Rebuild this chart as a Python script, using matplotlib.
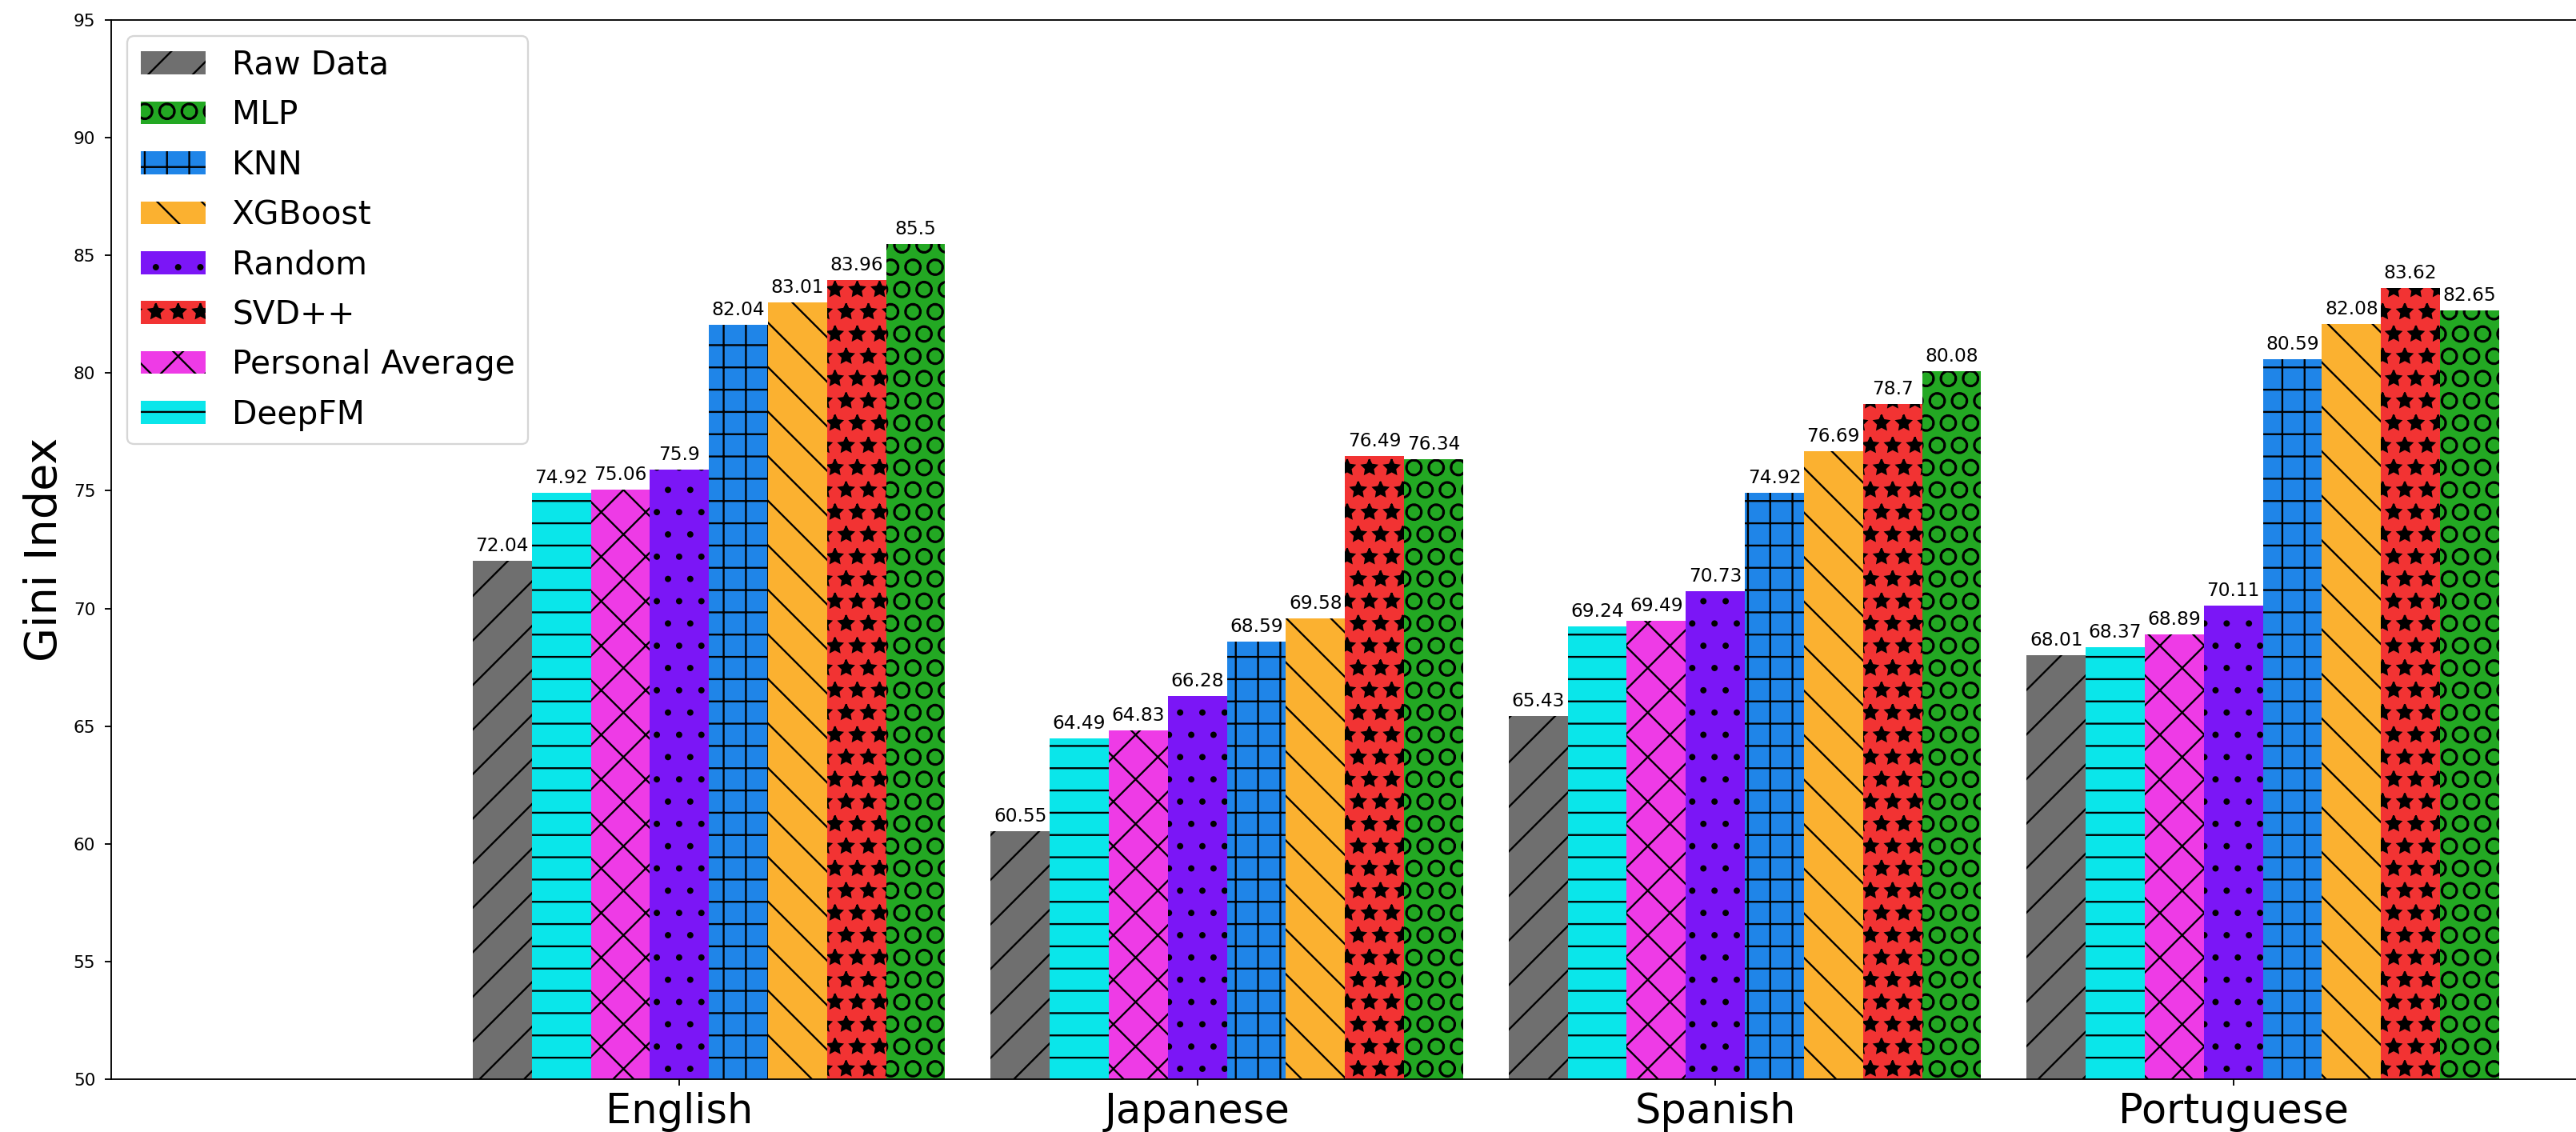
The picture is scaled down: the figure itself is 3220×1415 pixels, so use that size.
import numpy as np
import matplotlib
matplotlib.use("Agg")
import matplotlib.pyplot as plt

languages = ["English", "Japanese", "Spanish", "Portuguese"]

# legend order (the bars themselves sit in a different order inside a group)
methods = ["Raw Data", "MLP", "KNN", "XGBoost", "Random", "SVD++", "Personal Average", "DeepFM"]

raw_data = [72.04, 60.55, 65.43, 68.01]
mlp = [85.5, 76.34, 80.08, 82.65]
knn = [82.04, 68.59, 74.92, 80.59]
xgboost = [83.01, 69.58, 76.69, 82.08]
random_ = [75.9, 66.28, 70.73, 70.11]
svdpp = [83.96, 76.49, 78.7, 83.62]
personal_avg = [75.06, 64.83, 69.49, 68.89]
deepfm = [74.92, 64.49, 69.24, 68.37]

values = [raw_data, mlp, knn, xgboost, random_, svdpp, personal_avg, deepfm]
# slot of each method inside the group, Random sits on the tick
slots = [-3, 4, 1, 2, 0, 3, -1, -2]
colors = ["#6f6f6f", "#23a823", "#1f85e8", "#fbb130", "#7b16f6", "#f23333", "#ee3be6", "#0ae6ea"]
hatches = ["/", "O", "+", "\\", ".", "*", "x", "-"]

dpi = 167
fig = plt.figure(figsize=(3220 / dpi, 1415 / dpi), dpi=dpi)
ax = fig.add_axes([139 / 3220, 66 / 1415, 3091 / 3220, 1324 / 1415])

x = np.arange(len(languages))
width = 0.114

for name, vals, slot, c, h in zip(methods, values, slots, colors, hatches):
    bars = ax.bar(x + slot * width, vals, width, color=c, hatch=h, label=name)
    ax.bar_label(bars, padding=3, fontsize=10)

ax.set_xlim(-1.097, 3.677)
ax.set_ylim(50, 95)
ax.set_xticks(x)
ax.set_xticklabels(languages, fontsize=22)
ax.tick_params(axis="y", labelsize=9.3, pad=5)
ax.set_ylabel("Gini Index", fontsize=24)

ax.legend(loc="upper left", fontsize=17.6, labelspacing=0.55)

fig.savefig("out.png", dpi=dpi)
plt.close(fig)
